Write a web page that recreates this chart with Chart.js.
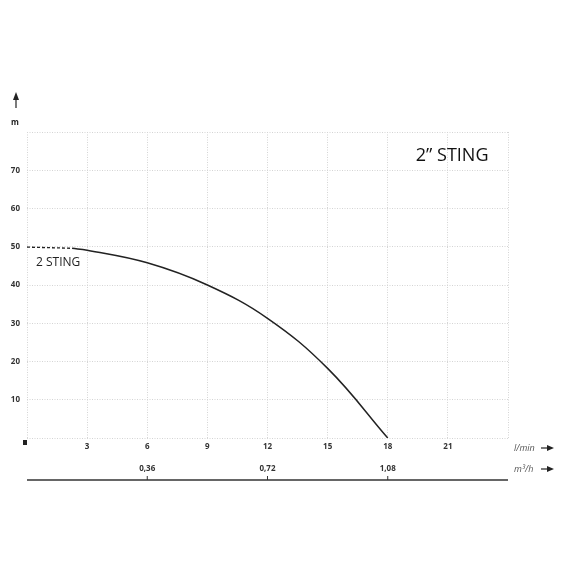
<!DOCTYPE html>
<html>
<head>
<meta charset="utf-8">
<script src="https://cdn.jsdelivr.net/npm/chart.js@4"></script>
<style>
  html, body { margin: 0; padding: 0; background: #fff; }
  #wrap { width: 570px; height: 570px; }
</style>
</head>
<body>
<div id="wrap"><canvas id="c" width="570" height="570"></canvas></div>
<script>
// pump curve, l/min vs head (m)
const flowDashed = [0, 2.25];
const headDashed = [49.9, 49.6];
const flow = [2.25, 3, 6, 9, 12, 15, 18];
const head = [49.6, 49.1, 45.8, 40.0, 31.3, 18.2, 0];

const xTicks = [3, 6, 9, 12, 15, 18, 21];
const yTicks = [10, 20, 30, 40, 50, 60, 70];
const m3hTicks = [0.36, 0.72, 1.08];

const chartTitle = '2\u201D STING';
const seriesName = '2 STING';

const tickFont = { family: 'Open Sans', size: 8, weight: 'bold' };

function pts(xs, ys) {
  return xs.map((x, i) => ({ x: x, y: ys[i] }));
}

function arrowRight(ctx, x, y) {
  ctx.beginPath();
  ctx.moveTo(x, y);
  ctx.lineTo(x + 9, y);
  ctx.stroke();
  ctx.beginPath();
  ctx.moveTo(x + 13, y);
  ctx.lineTo(x + 6, y - 3);
  ctx.lineTo(x + 6, y + 3);
  ctx.closePath();
  ctx.fill();
}

const extras = {
  id: 'extras',
  afterDraw(chart) {
    const ctx = chart.ctx;
    const x = chart.scales.x, y = chart.scales.y, x2 = chart.scales.x2;
    const area = chart.chartArea;
    ctx.save();
    ctx.fillStyle = '#222';
    ctx.strokeStyle = '#222';
    ctx.lineWidth = 1.2;

    // y axis arrow and unit
    ctx.beginPath();
    ctx.moveTo(16, area.top - 24);
    ctx.lineTo(16, area.top - 35);
    ctx.stroke();
    ctx.beginPath();
    ctx.moveTo(16, area.top - 40);
    ctx.lineTo(13, area.top - 32);
    ctx.lineTo(19, area.top - 32);
    ctx.closePath();
    ctx.fill();
    ctx.font = 'bold 8px "Open Sans"';
    ctx.textAlign = 'center';
    ctx.textBaseline = 'middle';
    ctx.fillText('m', 15, area.top - 9);

    // origin marker
    const ox = x.getPixelForValue(0), oy = y.getPixelForValue(0);
    ctx.fillRect(ox - 4, oy + 2, 4, 5);

    // unit labels and arrows on the right
    const ly = x.top + 10;
    const my = x2.top + 9;
    ctx.font = 'italic 9px "Open Sans"';
    ctx.textAlign = 'left';
    ctx.fillStyle = '#555';
    ctx.fillText('l/min', area.right + 6, ly);
    ctx.fillText('m\u00B3/h', area.right + 6, my);
    ctx.fillStyle = '#222';
    arrowRight(ctx, area.right + 33, ly);
    arrowRight(ctx, area.right + 33, my);

    // m3/h baseline with ticks
    const by = x2.top + 20;
    ctx.strokeStyle = '#333';
    ctx.lineWidth = 1.5;
    ctx.beginPath();
    ctx.moveTo(area.left, by);
    ctx.lineTo(area.right, by);
    ctx.stroke();
    ctx.lineWidth = 1;
    m3hTicks.forEach(v => {
      const px = x2.getPixelForValue(v);
      ctx.beginPath();
      ctx.moveTo(px, by);
      ctx.lineTo(px, by - 4);
      ctx.stroke();
    });

    // titles
    ctx.fillStyle = '#111';
    ctx.font = '18px "Open Sans"';
    ctx.textAlign = 'left';
    ctx.textBaseline = 'alphabetic';
    ctx.fillText(chartTitle, x.getPixelForValue(19.4), y.getPixelForValue(72.3));
    ctx.font = '12px "Open Sans"';
    ctx.fillStyle = '#222';
    ctx.textBaseline = 'middle';
    ctx.fillText(seriesName, x.getPixelForValue(0.45), y.getPixelForValue(45.9));
    ctx.restore();
  }
};

new Chart(document.getElementById('c'), {
  type: 'line',
  data: {
    datasets: [{
      label: seriesName + ' dashed',
      data: pts(flowDashed, headDashed),
      borderColor: '#222',
      borderWidth: 1.3,
      borderDash: [3, 2],
      pointRadius: 0,
      fill: false
    }, {
      label: seriesName,
      data: pts(flow, head),
      borderColor: '#222',
      borderWidth: 1.5,
      pointRadius: 0,
      tension: 0.4,
      fill: false
    }]
  },
  options: {
    responsive: false,
    animation: false,
    layout: { padding: { left: 0, top: 132, right: 62, bottom: 66 } },
    plugins: { legend: { display: false }, tooltip: { enabled: false } },
    scales: {
      x: {
        type: 'linear',
        position: 'bottom',
        min: 0, max: 24,
        afterBuildTicks: s => { s.ticks = [0].concat(xTicks, [24]).map(v => ({ value: v })); },
        afterFit: s => { s.height = 22; },
        ticks: {
          font: tickFont, color: '#333', padding: 4, maxRotation: 0,
          callback: v => xTicks.includes(v) ? String(v) : ''
        },
        grid: { color: '#d4d4d4', lineWidth: 1, drawTicks: false },
        border: { display: false, dash: [1, 1.5] }
      },
      x2: {
        type: 'linear',
        position: 'bottom',
        min: 0, max: 1.44,
        afterBuildTicks: s => { s.ticks = m3hTicks.map(v => ({ value: v })); },
        afterFit: s => { s.height = 44; },
        ticks: {
          font: tickFont, color: '#333', padding: 4, maxRotation: 0,
          callback: v => v.toFixed(2).replace('.', ',')
        },
        grid: { display: false, drawTicks: false },
        border: { display: false }
      },
      y: {
        type: 'linear',
        min: 0, max: 80,
        afterBuildTicks: s => { s.ticks = [0].concat(yTicks, [80]).map(v => ({ value: v })); },
        afterFit: s => { s.width = 27; },
        ticks: {
          font: tickFont, color: '#333', padding: 7,
          callback: v => yTicks.includes(v) ? String(v) : ''
        },
        grid: { color: '#d4d4d4', lineWidth: 1, drawTicks: false },
        border: { display: false, dash: [1, 1.5] }
      }
    }
  },
  plugins: [extras]
});
</script>
</body>
</html>
